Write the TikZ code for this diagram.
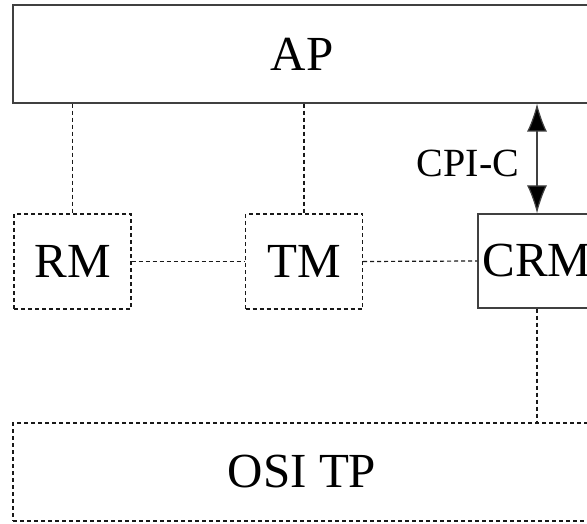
\documentclass[tikz,border=0pt]{standalone}
\usepackage{fontspec}
\setmainfont{Liberation Serif}
\usepackage{xcolor}
\usepackage{tikz}
\usetikzlibrary{arrows.meta,positioning}

\tikzset{
    unit/.style={
        draw=black!75,
        line width=0.6pt,
        inner sep=0pt,
        font=\fontsize{24.5pt}{28pt}\selectfont
    },
    soft/.style={
        draw=black!90,
        dash pattern=on 2pt off 1.5pt
    },
    link/.style={
        draw=black!90,
        line width=0.6pt,
        dash pattern=on 2pt off 1.5pt
    }
}

\begin{document}
\begin{tikzpicture}[x=0.5pt,y=-0.5pt]
                \clip (0,0) rectangle (587,523);

                \node[
                    unit,
                    minimum width=289pt,
                    minimum height=49pt
                    ] (ap) at (302,54) {AP};

                \node[
                    unit,
                    soft,
                    minimum width=58.5pt,
                    minimum height=47.5pt
                    ] (rm) at (72.5,261.5) {RM};

                \node[
                    unit,
                    soft,
                    minimum width=58.5pt,
                    minimum height=47.5pt
                    ] (tm) at (304,261.5) {TM};

                \node[
                    unit,
                    minimum width=59pt,
                    minimum height=47pt
                    ] (crm) at (537,261) {CRM};

                \node[
                    unit,
                    soft,
                    minimum width=289pt,
                    minimum height=49pt
                    ] (osi) at (302,472) {OSI TP};

                \node[
                    font=\fontsize{20pt}{24pt}\selectfont
                    ] (cpic) at (468,163) {CPI-C};

                \draw[link] (ap.south -| rm) to (rm.north);
                \draw[link] (ap.south -| tm) to (tm.north);
                \draw[link] (rm.east) to (tm.west);
                \draw[link] (tm.east) to (crm.west);
                \draw[link] (crm.south) to (osi.north -| crm);

                \draw[
                    {Latex[length=14pt,width=10pt,fill=black]}-{Latex[length=14pt,width=10pt,fill=black]},
                    draw=black!75,
                    line width=0.6pt
                    ] (ap.south -| crm) to (crm.north);

            \end{tikzpicture}
\end{document}
